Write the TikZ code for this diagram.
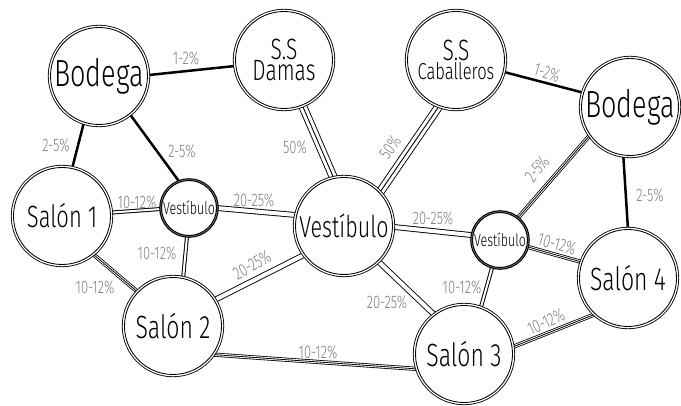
\documentclass[tikz,border=0pt]{standalone}
\usepackage{fontspec}
\setmainfont{Fira Sans Light}
\usepackage{graphicx}
\usetikzlibrary{backgrounds}
\newcommand{\tl}[1]{\scalebox{1}[1.4]{#1}}
\tikzset{
  big/.style={circle, draw, fill=white, line width=0.85pt, minimum size=97pt, inner sep=0pt, outer sep=0pt, align=center,
    preaction={draw, line width=0.85pt, double=white, double distance=3.6pt}},
  small/.style={circle, draw, fill=white, line width=1pt, minimum size=55pt, inner sep=0pt, outer sep=0pt,
    preaction={draw, line width=1.1pt, double=gray, double distance=2.4pt}},
  lbl/.style={text=gray, font=\fontsize{13}{13}\selectfont, inner sep=0pt},
  thickone/.style={line width=2.5pt},
  dwide/.style={line width=0.9pt, double=white, double distance=4pt},
  dnarrow/.style={line width=1pt, double=white, double distance=2pt},
  twide/.style={line width=0.9pt, preaction={draw, line width=0.9pt, double=white, double distance=7pt}},
  ttight/.style={line width=0.8pt, preaction={draw, line width=0.8pt, double=white, double distance=2.6pt}},
}
\begin{document}
\begin{tikzpicture}[x=1pt,y=-1pt]
\useasboundingbox (0,0) rectangle (681,406);
% nodes
\node[big] (bl) at (99,76) {\fontsize{27}{27}\selectfont\tl{Bodega}};
\node[big] (dam) at (284,60) {\fontsize{21}{31}\selectfont\tl{S.S}\\\fontsize{21}{31}\selectfont\tl{Damas}};
\node[big] (cab) at (456,60) {\fontsize{21}{33}\selectfont\tl{S.S}\\\fontsize{16.5}{33}\selectfont\tl{Caballeros}};
\node[big] (br) at (630,107) {\fontsize{27}{27}\selectfont\tl{Bodega}};
\node[big] (s1) at (62,216) {\fontsize{22}{22}\selectfont\tl{Salón 1}};
\node[small] (vl) at (189,208) {\fontsize{12.5}{12.5}\selectfont\tl{Vestíbulo}};
\node[big] (v) at (344,226) {\fontsize{21.5}{21.5}\selectfont\tl{Vestíbulo}};
\node[small] (vr) at (500,240) {\fontsize{12.5}{12.5}\selectfont\tl{Vestíbulo}};
\node[big] (s2) at (173,326) {\fontsize{23}{23}\selectfont\tl{Salón 2}};
\node[big] (s3) at (464,354) {\fontsize{23}{23}\selectfont\tl{Salón 3}};
\node[big] (s4) at (628,278) {\fontsize{23}{23}\selectfont\tl{Salón 4}};
% edges
\begin{scope}[on background layer]
\fill[white] (0,0) rectangle (681,406);
\draw[thickone] (bl.1) -- (dam.187);
\draw[thickone] (bl.252) -- (s1.78);
\draw[thickone] (bl.309) -- (vl.110);
\draw[thickone] (cab.346) -- (br.163);
\draw[thickone] (br.262) -- (s4.90);
\draw[dwide] (vl.0) -- (v.167);
\draw[dwide] (s2.32) -- (v.216);
\draw[dwide] (v.359) -- (vr.170);
\draw[dwide] (v.314) -- (s3.127);
\draw[dnarrow] (s1.4) -- (vl.182);
\draw[dnarrow] (vl.266) -- (s2.78);
\draw[dnarrow] (vr.254) -- (s3.70);
\draw[twide] (dam.292) -- (v.102);
\draw[twide] (cab.250) -- (v.43);
\draw[ttight] (br.215) -- (vr.51);
\draw[ttight] (s1.309) -- (s2.136);
\draw[ttight] (s2.324) -- (s3.198);
\draw[ttight] (s3.8) -- (s4.228);
\draw[ttight] (vr.346) -- (s4.161);
\end{scope}
% labels
\node[lbl] (l1) at (186,58) {\tl{1-2\%}};
\node[lbl] (l2) at (56,145) {\tl{2-5\%}};
\node[lbl] (l3) at (182,151) {\tl{2-5\%}};
\node[lbl] (l4) at (295,147) {\tl{50\%}};
\node[lbl] (l5) at (137,202) {\tl{10-12\%}};
\node[lbl] (l6) at (254,200) {\tl{20-25\%}};
\node[lbl] (l7) at (157,253) {\tl{10-12\%}};
\node[lbl] (l8) at (95,287) {\tl{10-12\%}};
\node[lbl, rotate=30] (l9) at (252,265) {\tl{20-25\%}};
\node[lbl] (l10) at (318,352) {\tl{10-12\%}};
\node[lbl, rotate=56] (l11) at (390,147) {\tl{50\%}};
\node[lbl, rotate=-18] (l12) at (547,73) {\tl{1-2\%}};
\node[lbl, rotate=52] (l13) at (537,169) {\tl{2-5\%}};
\node[lbl] (l14) at (650,195) {\tl{2-5\%}};
\node[lbl] (l15) at (433,218) {\tl{20-25\%}};
\node[lbl, rotate=-16] (l16) at (557,244) {\tl{10-12\%}};
\node[lbl] (l17) at (462,287) {\tl{10-12\%}};
\node[lbl] (l18) at (387,302) {\tl{20-25\%}};
\node[lbl, rotate=25] (l19) at (546,322) {\tl{10-12\%}};
\end{tikzpicture}
\end{document}
